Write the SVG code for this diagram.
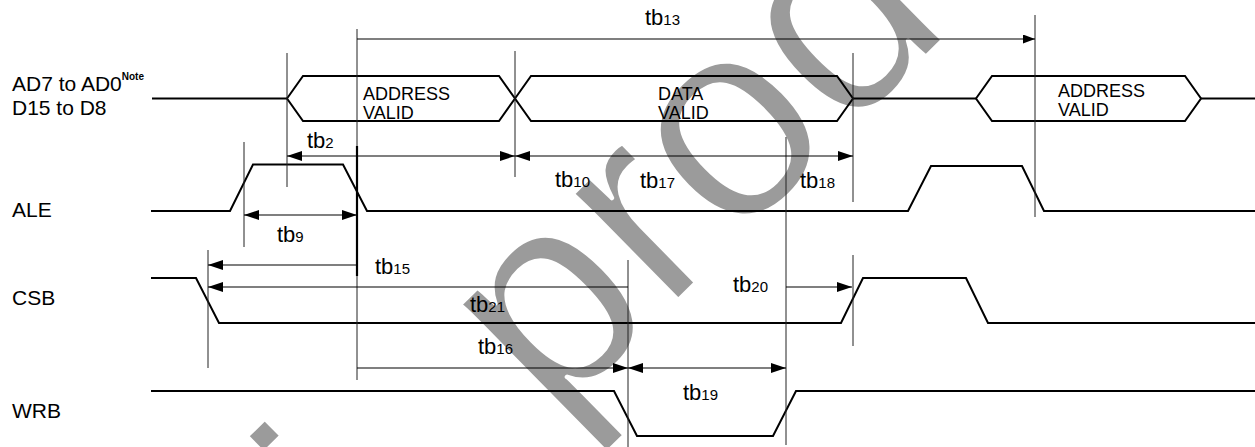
<svg xmlns="http://www.w3.org/2000/svg" width="1255" height="447" viewBox="0 0 1255 447">
<style>
.wm{font-family:"Liberation Sans",Arial,sans-serif;fill:#9b9b9b;stroke:#fff;stroke-width:4;stroke-linejoin:round}
.sig{fill:none;stroke:#000;stroke-width:2;stroke-linejoin:miter}
.vl{stroke:#222;stroke-width:1;fill:none}
.dim{stroke:#000;stroke-width:1.2;fill:none}
.lbl{font-family:"Liberation Sans",Arial,sans-serif;font-size:21px;fill:#000}
.box{font-family:"Liberation Sans",Arial,sans-serif;font-size:18px;fill:#000}
.tb{font-family:"Liberation Sans",Arial,sans-serif;font-size:22px;fill:#000}
.sub{font-size:15px}
</style>
<defs>
<marker id="ar" viewBox="0 0 15 10" refX="15" refY="5" markerWidth="15" markerHeight="10" markerUnits="userSpaceOnUse" orient="auto-start-reverse"><path d="M0,0 L15,5 L0,10 Z" fill="#000"/></marker>
<marker id="ars" viewBox="0 0 12 9" refX="12" refY="4.5" markerWidth="12" markerHeight="9" markerUnits="userSpaceOnUse" orient="auto-start-reverse"><path d="M0,0 L12,4.5 L0,9 Z" fill="#000"/></marker>
</defs>
<rect width="1255" height="447" fill="#fff"/>
<g id="watermark">
<text class="wm" font-size="283" transform="translate(552,424) rotate(-44.5)"><tspan x="-245" y="0">i</tspan><tspan x="0" y="0">prod</tspan></text>
</g>
<g id="labels">
<text class="lbl" x="12" y="91">AD7 to AD0<tspan font-size="10" font-weight="bold" dy="-11">Note</tspan></text>
<text class="lbl" x="12" y="115">D15 to D8</text>
<text class="lbl" x="12" y="217">ALE</text>
<text class="lbl" x="12" y="305">CSB</text>
<text class="lbl" x="12" y="418">WRB</text>
</g>
<g id="AD_bus">
<path class="sig" d="M152,98.5 H287 M853,98.5 H976 M1201,98.5 H1255"/>
<path class="sig" d="M287,98.5 L303,76 H499 L515,98.5 L499,121 H303 Z"/>
<path class="sig" d="M515,98.5 L531,76 H837 L853,98.5 L837,121 H531 Z"/>
<path class="sig" d="M976,98.5 L992,76 H1185 L1201,98.5 L1185,121 H992 Z"/>
<text class="box" x="363" y="100">ADDRESS</text>
<text class="box" x="363" y="119">VALID</text>
<text class="box" x="658" y="100">DATA</text>
<text class="box" x="658" y="119">VALID</text>
<text class="box" x="1058" y="97">ADDRESS</text>
<text class="box" x="1058" y="116">VALID</text>
</g>
<g id="ALE"><path class="sig" d="M151,211 H230 L253,164.5 H343 L367,211 H908 L931,166 H1022 L1044,211 H1255"/></g>
<g id="CSB"><path class="sig" d="M151,278 H196 L219,323 H841 L863,278 H966 L988,323 H1255"/></g>
<g id="WRB"><path class="sig" d="M151,391 H614 L637,436 H773 L796,391 H1255"/></g>
<g id="connectors">
<path class="vl" d="M287,53 V187 M357,29 V380 M515,51 V177 M853,53 V202 M1035,15 V217 M244,142 V247 M208,250 V368 M628,260 V447 M786,137 V445 M853,255 V346"/>
<path d="M357,146 V276" stroke="#000" stroke-width="2.2"/>
<path class="dim" d="M357,39 H1035" marker-end="url(#ars)"/>
<path class="dim" d="M287,156 H515" marker-start="url(#ar)" marker-end="url(#ar)"/>
<path class="dim" d="M515,156 H853" marker-start="url(#ar)" marker-end="url(#ar)"/>
<path class="dim" d="M244,215 H357" marker-start="url(#ar)" marker-end="url(#ar)"/>
<path class="dim" d="M208,265 H357" marker-start="url(#ar)"/>
<path class="dim" d="M208,287 H628" marker-start="url(#ar)"/>
<path class="dim" d="M786,287 H852" marker-end="url(#ar)"/>
<path class="dim" d="M357,368 H628" marker-end="url(#ar)"/>
<path class="dim" d="M628,368 H786" marker-start="url(#ar)" marker-end="url(#ar)"/>
</g>
<g id="timing_labels">
<text class="tb" x="645" y="25">tb<tspan class="sub">13</tspan></text>
<text class="tb" x="307" y="148">tb<tspan class="sub">2</tspan></text>
<text class="tb" x="555" y="187">tb<tspan class="sub">10</tspan></text>
<text class="tb" x="640" y="188">tb<tspan class="sub">17</tspan></text>
<text class="tb" x="800" y="188">tb<tspan class="sub">18</tspan></text>
<text class="tb" x="277" y="242">tb<tspan class="sub">9</tspan></text>
<text class="tb" x="375" y="274">tb<tspan class="sub">15</tspan></text>
<text class="tb" x="470" y="312">tb<tspan class="sub">21</tspan></text>
<text class="tb" x="733" y="292">tb<tspan class="sub">20</tspan></text>
<text class="tb" x="478" y="354">tb<tspan class="sub">16</tspan></text>
<text class="tb" x="683" y="400">tb<tspan class="sub">19</tspan></text>
</g>
</svg>
